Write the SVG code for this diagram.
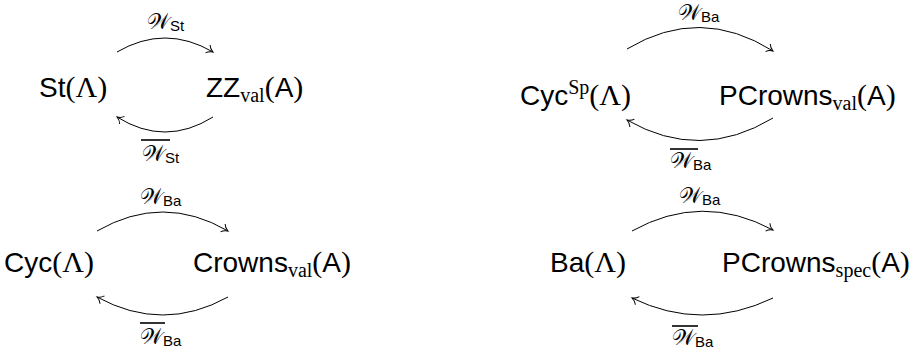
<svg xmlns="http://www.w3.org/2000/svg" width="914" height="354" viewBox="0 0 914 354">
<defs>
<style>
.n { font-family: "Liberation Sans", Arial, sans-serif; font-size: 28px; fill: #000; }
.rm { font-family: "Liberation Serif", "Times New Roman", serif; font-size: 30px; }
.sb { font-family: "Liberation Serif", "Times New Roman", serif; font-size: 20px; }
.lw { font-family: "DejaVu Serif", "Liberation Serif", serif; font-size: 22px; fill: #000; }
.ls { font-family: "Liberation Sans", Arial, sans-serif; font-size: 15px; }
.arr { fill: none; stroke: #000; stroke-width: 1; marker-end: url(#ah); }
.ov { stroke: #000; stroke-width: 1.6; }
</style>
<marker id="ah" viewBox="-8 -6 10 12" refX="0" refY="0" markerWidth="10" markerHeight="12" markerUnits="userSpaceOnUse" orient="auto">
<path d="M-6,-4.5 C-4.5,-2 -1.5,-0.5 0,0 C-1.5,0.5 -4.5,2 -6,4.5" fill="none" stroke="#000" stroke-width="1"/>
</marker>
</defs>
<rect width="914" height="354" fill="#fff"/>

<g id="st"><text class="n" x="39" y="97">St<tspan class="rm">(Λ)</tspan></text></g>
<g id="zzval"><text class="n" x="206" y="97">ZZ<tspan class="sb" dy="5">val</tspan><tspan class="rm" dy="-5">(</tspan>A<tspan class="rm">)</tspan></text></g>

<g id="cyc"><text class="n" x="4" y="272">Cyc<tspan class="rm">(Λ)</tspan></text></g>
<g id="crownsval"><text class="n" x="193" y="272">Crowns<tspan class="sb" dy="5">val</tspan><tspan class="rm" dy="-5">(</tspan>A<tspan class="rm">)</tspan></text></g>

<g id="cycsp"><text class="n" x="520" y="105">Cyc<tspan class="sb" dy="-11">Sp</tspan><tspan class="rm" dy="11">(Λ)</tspan></text></g>
<g id="pcrownsval"><text class="n" x="719" y="105">PCrowns<tspan class="sb" dy="5">val</tspan><tspan class="rm" dy="-5">(</tspan>A<tspan class="rm">)</tspan></text></g>

<g id="ba"><text class="n" x="550" y="272">Ba<tspan class="rm">(Λ)</tspan></text></g>
<g id="pcrownsspec"><text class="n" x="722" y="272">PCrowns<tspan class="sb" dy="5">spec</tspan><tspan class="rm" dy="-5">(</tspan>A<tspan class="rm">)</tspan></text></g>

<g id="connectors">
<path class="arr" d="M117,52 Q165,24 213,52"/>
<path class="arr" d="M213,117 Q165,147 117,117"/>
<path class="arr" d="M97,231 Q163,193 228,231"/>
<path class="arr" d="M228,297 Q163,333 97,297"/>
<path class="arr" d="M627,49 Q700,5 773,51"/>
<path class="arr" d="M773,118 Q700,162 627,120"/>
<path class="arr" d="M632,231 Q702,192 773,230"/>
<path class="arr" d="M773,298 Q702,332 632,298"/>
</g>

<g id="labels">
<text class="lw" x="147" y="29">𝒲<tspan class="ls" dy="2">St</tspan></text>
<text class="lw" x="142" y="161">𝒲<tspan class="ls" dy="2">St</tspan></text>
<line class="ov" x1="141" y1="140" x2="170" y2="140"/>
<text class="lw" x="140" y="204">𝒲<tspan class="ls" dy="2">Ba</tspan></text>
<text class="lw" x="140" y="344">𝒲<tspan class="ls" dy="2">Ba</tspan></text>
<line class="ov" x1="140" y1="323" x2="165" y2="323"/>
<text class="lw" x="678" y="20">𝒲<tspan class="ls" dy="2">Ba</tspan></text>
<text class="lw" x="670" y="168">𝒲<tspan class="ls" dy="2">Ba</tspan></text>
<line class="ov" x1="670" y1="149" x2="698" y2="149"/>
<text class="lw" x="679" y="203">𝒲<tspan class="ls" dy="2">Ba</tspan></text>
<text class="lw" x="672" y="345">𝒲<tspan class="ls" dy="2">Ba</tspan></text>
<line class="ov" x1="672" y1="326" x2="698" y2="326"/>
</g>
</svg>
